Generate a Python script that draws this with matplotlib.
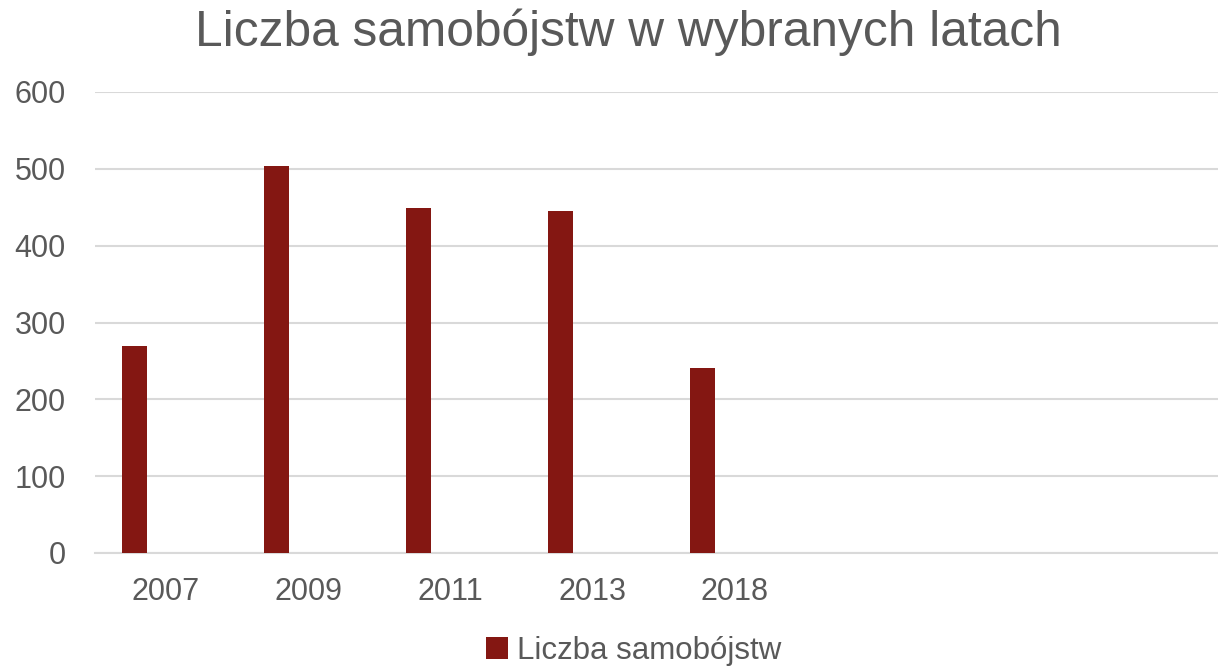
import matplotlib
matplotlib.use("Agg")
import matplotlib.pyplot as plt
import numpy as np

plt.rcParams['font.family'] = ['Liberation Sans', 'DejaVu Sans']

# data
years = ['2007', '2009', '2011', '2013', '2018', '', '', '']
suicides = [270, 504, 449, 445, 241]
series_name = 'Liczba samobójstw'

bar_color = '#841712'
text_color = '#595959'
grid_color = '#d9d9d9'

fig = plt.figure(figsize=(12.18, 6.68), dpi=100)
# category width ~142 px, axis runs a little past the right edge
ax = fig.add_axes([95 / 1218, 1 - 553 / 668, 1136 / 1218, (553 - 92) / 668])

x = np.arange(len(suicides))
ax.bar(x - 0.222, suicides, width=0.176, color=bar_color, label=series_name, zorder=3)

ax.set_xlim(-0.5, len(years) - 0.5)
ax.set_ylim(0, 600)
ax.set_yticks(range(0, 601, 100))
ax.set_xticks(np.arange(len(years)))
ax.set_xticklabels(years)

ax.grid(axis='y', color=grid_color, linewidth=1.5, zorder=0)
for s in ['top', 'right', 'left']:
    ax.spines[s].set_visible(False)
ax.spines['bottom'].set_color(grid_color)
ax.spines['bottom'].set_linewidth(1.5)

ax.tick_params(axis='y', length=0, pad=21, labelsize=22, labelcolor=text_color)
ax.tick_params(axis='x', length=0, pad=17, labelsize=22, labelcolor=text_color)

fig.text(628 / 1218, 1 - 32 / 668, 'Liczba samobójstw w wybranych latach',
         ha='center', va='center', fontsize=35.7, color=text_color)

leg = fig.legend(loc='center', bbox_to_anchor=(634 / 1218, 1 - 651 / 668),
                 frameon=False, fontsize=22.5, handlelength=0.7, handleheight=0.7,
                 handletextpad=0.3, borderaxespad=0)
for t in leg.get_texts():
    t.set_color(text_color)

fig.savefig('out.png', dpi=100)
